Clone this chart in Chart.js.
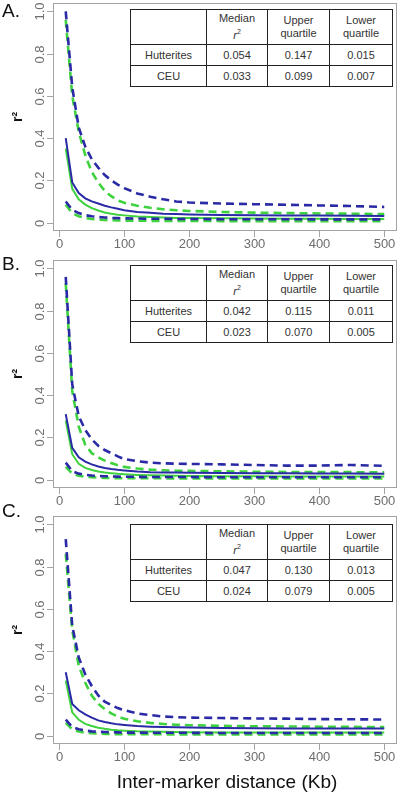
<!DOCTYPE html>
<html>
<head>
<meta charset="utf-8">
<script src="https://cdn.jsdelivr.net/npm/chart.js@4/dist/chart.umd.min.js"></script>
<style>
  html, body { margin: 0; padding: 0; background: #fff; }
  #wrap { position: relative; width: 400px; height: 797px; overflow: hidden; font-family: "Liberation Sans", Arial, sans-serif; }
  canvas { position: absolute; left: 0; }
  .tag { position: absolute; left: 2px; font-size: 19px; line-height: 19px; color: #111; }
  table.stats { position: absolute; left: 130px; width: 262px; border-collapse: collapse; table-layout: fixed; background: #fff; font-size: 11px; color: #333; }
  table.stats td { border: 1px solid #222; text-align: center; padding: 0; line-height: 13px; }
  table.stats tr.head td { height: 34px; }
  table.stats tr.row td { height: 20px; }
</style>
</head>
<body>
<div id="wrap">
  <canvas id="chartA" width="400" height="258" style="top:0px"></canvas>
  <canvas id="chartB" width="400" height="258" style="top:257px"></canvas>
  <canvas id="chartC" width="400" height="284" style="top:513px"></canvas>
  <div class="tag" style="top:1px">A.</div>
  <div class="tag" style="top:254px">B.</div>
  <div class="tag" style="top:501px">C.</div>
</div>
<script>
// distance bins (Kb)
const distKb = [10,20,30,40,50,60,70,80,90,100,120,140,160,180,200,250,300,350,400,450,500];

// panel A
const hutMedA = [0.40,0.19,0.14,0.115,0.10,0.09,0.08,0.072,0.065,0.058,0.05,0.046,0.042,0.040,0.038,0.036,0.035,0.034,0.033,0.032,0.031];
const hutUpA  = [1.00,0.64,0.45,0.36,0.30,0.26,0.225,0.20,0.18,0.163,0.138,0.122,0.11,0.10,0.095,0.09,0.087,0.084,0.081,0.078,0.074];
const hutLoA  = [0.10,0.06,0.045,0.035,0.03,0.026,0.024,0.022,0.021,0.02,0.019,0.018,0.018,0.017,0.017,0.016,0.016,0.016,0.015,0.015,0.015];
const ceuMedA = [0.35,0.16,0.11,0.085,0.068,0.057,0.048,0.042,0.037,0.034,0.029,0.026,0.024,0.022,0.021,0.02,0.019,0.018,0.018,0.017,0.017];
const ceuUpA  = [0.96,0.60,0.43,0.32,0.24,0.19,0.15,0.125,0.105,0.094,0.08,0.07,0.063,0.058,0.055,0.05,0.047,0.045,0.043,0.042,0.040];
const ceuLoA  = [0.085,0.045,0.03,0.022,0.017,0.014,0.012,0.011,0.010,0.009,0.009,0.008,0.008,0.008,0.008,0.007,0.007,0.007,0.007,0.007,0.007];

// panel B
const hutMedB = [0.31,0.15,0.105,0.085,0.072,0.062,0.055,0.05,0.046,0.043,0.038,0.035,0.034,0.033,0.032,0.031,0.030,0.030,0.029,0.029,0.028];
const hutUpB  = [0.96,0.45,0.30,0.235,0.19,0.16,0.14,0.125,0.11,0.097,0.087,0.08,0.077,0.075,0.074,0.072,0.069,0.066,0.066,0.069,0.065];
const hutLoB  = [0.08,0.04,0.028,0.022,0.019,0.017,0.016,0.015,0.014,0.013,0.013,0.012,0.012,0.012,0.012,0.011,0.011,0.011,0.011,0.011,0.011];
const ceuMedB = [0.28,0.12,0.075,0.055,0.045,0.038,0.033,0.03,0.027,0.025,0.022,0.02,0.019,0.018,0.017,0.016,0.016,0.015,0.015,0.015,0.015];
const ceuUpB  = [0.93,0.42,0.25,0.165,0.125,0.105,0.09,0.078,0.068,0.06,0.052,0.047,0.044,0.042,0.041,0.039,0.037,0.036,0.035,0.035,0.034];
const ceuLoB  = [0.06,0.028,0.018,0.013,0.011,0.009,0.008,0.007,0.007,0.006,0.006,0.006,0.006,0.005,0.005,0.005,0.005,0.005,0.005,0.005,0.005];

// panel C
const hutMedC = [0.30,0.15,0.12,0.10,0.085,0.072,0.064,0.058,0.053,0.05,0.045,0.042,0.04,0.039,0.038,0.036,0.035,0.034,0.034,0.033,0.033];
const hutUpC  = [0.93,0.52,0.37,0.29,0.235,0.19,0.16,0.145,0.13,0.12,0.105,0.097,0.09,0.087,0.085,0.083,0.081,0.08,0.078,0.077,0.076];
const hutLoC  = [0.075,0.04,0.03,0.024,0.02,0.018,0.017,0.016,0.015,0.014,0.014,0.013,0.013,0.013,0.013,0.012,0.012,0.012,0.012,0.012,0.012];
const ceuMedC = [0.26,0.11,0.075,0.055,0.045,0.037,0.032,0.028,0.025,0.023,0.02,0.019,0.018,0.017,0.016,0.015,0.015,0.014,0.014,0.014,0.014];
const ceuUpC  = [0.86,0.50,0.33,0.25,0.19,0.15,0.125,0.105,0.09,0.08,0.068,0.06,0.055,0.051,0.049,0.046,0.044,0.043,0.042,0.041,0.04];
const ceuLoC  = [0.06,0.03,0.019,0.014,0.011,0.009,0.008,0.007,0.007,0.006,0.006,0.006,0.006,0.005,0.005,0.005,0.005,0.005,0.005,0.005,0.005];

// axis ticks
const xTicks = [0,100,200,300,400,500];
const yTicks = [0,0.2,0.4,0.6,0.8,1.0];
const yTickLabels = ['0','0.2','0.4','0.6','0.8','1.0'];

// summary tables
const populations = ['Hutterites','CEU'];
const statsA = [['0.054','0.147','0.015'],['0.033','0.099','0.007']];
const statsB = [['0.042','0.115','0.011'],['0.023','0.070','0.005']];
const statsC = [['0.047','0.130','0.013'],['0.024','0.079','0.005']];

const BLUE = '#2a2aa6';
const GREEN = '#3fd23f';
const FONT = '"Liberation Sans", Arial, sans-serif';

// R-style box, ticks and labels
const rAxes = {
  id: 'rAxes',
  afterDraw(chart, args, opts) {
    const {ctx, chartArea: a} = chart;
    const x = chart.scales.x, y = chart.scales.y;
    ctx.save();
    ctx.strokeStyle = '#a4a4a4';
    ctx.lineWidth = 1;
    ctx.strokeRect(a.left + 0.5, a.top + 0.5, a.right - a.left - 1, a.bottom - a.top - 1);

    ctx.fillStyle = '#6e6e6e';
    ctx.font = '13px ' + FONT;
    ctx.textAlign = 'center';
    ctx.textBaseline = 'middle';
    xTicks.forEach(v => {
      const px = Math.round(x.getPixelForValue(v)) + 0.5;
      ctx.beginPath(); ctx.moveTo(px, a.bottom); ctx.lineTo(px, a.bottom + 6); ctx.stroke();
      ctx.fillText(String(v), px, a.bottom + 13);
    });
    yTicks.forEach((v, i) => {
      const py = Math.round(y.getPixelForValue(v)) + 0.5;
      ctx.beginPath(); ctx.moveTo(a.left - 6, py); ctx.lineTo(a.left, py); ctx.stroke();
      ctx.save();
      ctx.translate(a.left - 13, py);
      ctx.rotate(-Math.PI / 2);
      ctx.fillText(yTickLabels[i], 0, 0);
      ctx.restore();
    });

    // y title
    ctx.save();
    ctx.fillStyle = '#111';
    ctx.font = 'bold 14px ' + FONT;
    ctx.translate(18, (a.top + a.bottom) / 2);
    ctx.rotate(-Math.PI / 2);
    ctx.fillText('r²', 0, 0);
    ctx.restore();

    if (opts.xTitle) {
      ctx.fillStyle = '#111';
      ctx.font = '19px ' + FONT;
      ctx.fillText(opts.xTitle, (a.left + a.right) / 2 + 2, a.bottom + 39);
    }
    ctx.restore();
  }
};

function line(data, color, dashed) {
  return {
    data: data.map((v, i) => ({x: distKb[i], y: v})),
    borderColor: color,
    borderWidth: dashed ? 2.6 : 2,
    borderDash: dashed ? [8, 5] : [],
    pointRadius: 0,
    tension: 0,
    fill: false
  };
}

function makePanel(id, med, up, lo, cMed, cUp, cLo, bottomPad, xTitle) {
  const ctx = document.getElementById(id).getContext('2d');
  return new Chart(ctx, {
    type: 'line',
    data: {
      datasets: [
        line(med, BLUE, false),
        line(up, BLUE, true),
        line(lo, BLUE, true),
        line(cMed, GREEN, false),
        line(cUp, GREEN, true),
        line(cLo, GREEN, true)
      ]
    },
    options: {
      responsive: false,
      devicePixelRatio: 1,
      animation: false,
      events: [],
      layout: { padding: { left: 53, right: 3, top: 3, bottom: bottomPad } },
      plugins: { legend: { display: false }, tooltip: { enabled: false }, rAxes: { xTitle: xTitle } },
      scales: {
        x: { type: 'linear', min: -9.6, max: 519.6, display: false },
        y: { type: 'linear', min: -0.04, max: 1.04, display: false }
      }
    },
    plugins: [rAxes]
  });
}

makePanel('chartA', hutMedA, hutUpA, hutLoA, ceuMedA, ceuUpA, ceuLoA, 27, null);
makePanel('chartB', hutMedB, hutUpB, hutLoB, ceuMedB, ceuUpB, ceuLoB, 27, null);
makePanel('chartC', hutMedC, hutUpC, hutLoC, ceuMedC, ceuUpC, ceuLoC, 53, 'Inter-marker distance (Kb)');

function makeTable(top, stats) {
  const t = document.createElement('table');
  t.className = 'stats';
  t.style.top = top + 'px';
  let html = '<colgroup><col style="width:76px"><col style="width:61px"><col style="width:62px"><col style="width:63px"></colgroup>';
  html += '<tr class="head"><td></td><td>Median<br><i>r</i><sup style="font-size:7px">2</sup></td><td>Upper<br>quartile</td><td>Lower<br>quartile</td></tr>';
  populations.forEach((p, i) => {
    html += '<tr class="row"><td>' + p + '</td>' + stats[i].map(s => '<td>' + s + '</td>').join('') + '</tr>';
  });
  t.innerHTML = html;
  document.getElementById('wrap').appendChild(t);
}

makeTable(9, statsA);
makeTable(265, statsB);
makeTable(524, statsC);
</script>
</body>
</html>
